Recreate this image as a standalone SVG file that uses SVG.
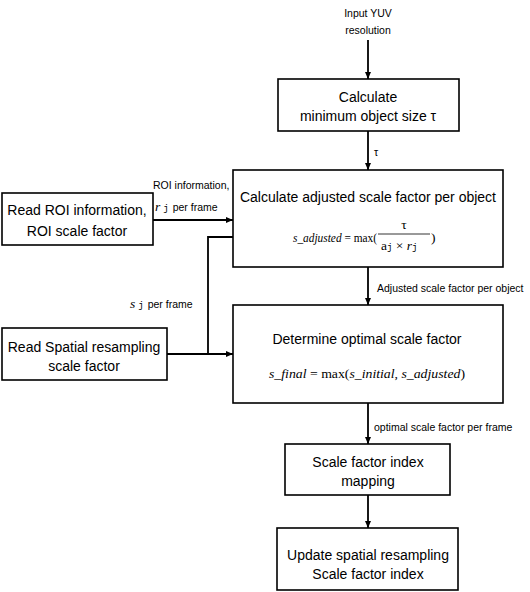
<svg xmlns="http://www.w3.org/2000/svg" width="530" height="592" viewBox="0 0 530 592">
<defs>
<style>
.box{fill:#fff;stroke:#000;stroke-width:1.6}
.t{font-family:"Liberation Sans",Arial,sans-serif;font-size:14px;fill:#000;text-anchor:middle}
.s{font-family:"Liberation Sans",Arial,sans-serif;font-size:10.5px;fill:#000}
.m{font-family:"Liberation Serif","Times New Roman",serif;font-size:13.5px;fill:#000}
.mi{font-style:italic}
.mono{font-family:"Liberation Mono","DejaVu Sans Mono",monospace;font-size:9px}
.c{fill:none;stroke:#000;stroke-width:1.8}
</style>
<marker id="ah" markerUnits="userSpaceOnUse" markerWidth="8" markerHeight="8" refX="7" refY="4" orient="auto">
<path d="M0,1 L7,4 L0,7 z" fill="#000"/>
</marker>
</defs>
<rect width="530" height="592" fill="#fff"/>
<g id="connectors">
<line class="c" x1="368" y1="40" x2="368" y2="79" marker-end="url(#ah)"/>
<line class="c" x1="368" y1="131" x2="368" y2="170" marker-end="url(#ah)"/>
<line class="c" x1="368" y1="267" x2="368" y2="305" marker-end="url(#ah)"/>
<line class="c" x1="368" y1="403" x2="368" y2="444" marker-end="url(#ah)"/>
<line class="c" x1="368" y1="495" x2="368" y2="528" marker-end="url(#ah)"/>
<line class="c" x1="153" y1="220" x2="233" y2="220" marker-end="url(#ah)"/>
<line class="c" x1="167" y1="354" x2="233" y2="354" marker-end="url(#ah)"/>
<polyline class="c" points="208,354 208,237 248,237" marker-end="url(#ah)"/>
<text class="s" x="368" y="17" text-anchor="middle">Input YUV</text>
<text class="s" x="368" y="34" text-anchor="middle">resolution</text>
<text class="s" x="374" y="156">τ</text>
<text class="s" x="377" y="292">Adjusted scale factor per object</text>
<text class="s" x="374" y="431">optimal scale factor per frame</text>
<text class="s" x="153" y="189">ROI information,</text>
<text x="155" y="211"><tspan class="m mi" font-size="15">r</tspan><tspan class="mono" font-size="8" dx="3">j</tspan><tspan class="s" dx="4">per frame</tspan></text>
<text x="130" y="308"><tspan class="m mi" font-size="16">s</tspan><tspan class="mono" font-size="8" dx="3">j</tspan><tspan class="s" dx="4">per frame</tspan></text>
</g>
<g id="n_input_min">
<rect class="box" x="278" y="79" width="181" height="52"/>
<text class="t" x="368" y="102">Calculate</text>
<text class="t" x="368" y="121">minimum object size τ</text>
</g>
<g id="n_roi">
<rect class="box" x="2" y="193" width="151" height="52"/>
<text class="t" x="77" y="215">Read ROI information,</text>
<text class="t" x="77" y="236">ROI scale factor</text>
</g>
<g id="n_adjusted">
<rect class="box" x="233" y="170" width="270" height="97"/>
<text class="t" x="368" y="202">Calculate adjusted scale factor per object</text>
<text class="m" x="293" y="242" textLength="84" lengthAdjust="spacingAndGlyphs"><tspan class="mi">s_adjusted</tspan> = max(</text>
<line x1="378" y1="234" x2="430" y2="234" stroke="#000" stroke-width="0.8"/>
<text class="m" x="404" y="229" text-anchor="middle">τ</text>
<text class="m" x="381" y="250" font-size="12.5">a<tspan class="mono" font-size="7">j</tspan> × <tspan class="mi">r</tspan><tspan class="mono" font-size="7">j</tspan></text>
<text class="m" x="431" y="242">)</text>
</g>
<g id="n_spatial">
<rect class="box" x="2" y="328" width="165" height="52"/>
<text class="t" x="84" y="352">Read Spatial resampling</text>
<text class="t" x="84" y="371">scale factor</text>
</g>
<g id="n_optimal">
<rect class="box" x="233" y="305" width="270" height="98"/>
<text class="t" x="367" y="344">Determine optimal scale factor</text>
<text class="m" x="269" y="378" textLength="196" lengthAdjust="spacingAndGlyphs"><tspan class="mi">s_final</tspan> =  max(<tspan class="mi">s_initial</tspan>, <tspan class="mi">s_adjusted</tspan>)</text>
</g>
<g id="n_mapping">
<rect class="box" x="285" y="444" width="165" height="51"/>
<text class="t" x="368" y="467">Scale factor index</text>
<text class="t" x="368" y="486">mapping</text>
</g>
<g id="n_update">
<rect class="box" x="277" y="528" width="181" height="62"/>
<text class="t" x="368" y="560">Update spatial resampling</text>
<text class="t" x="368" y="579">Scale factor index</text>
</g>
</svg>
